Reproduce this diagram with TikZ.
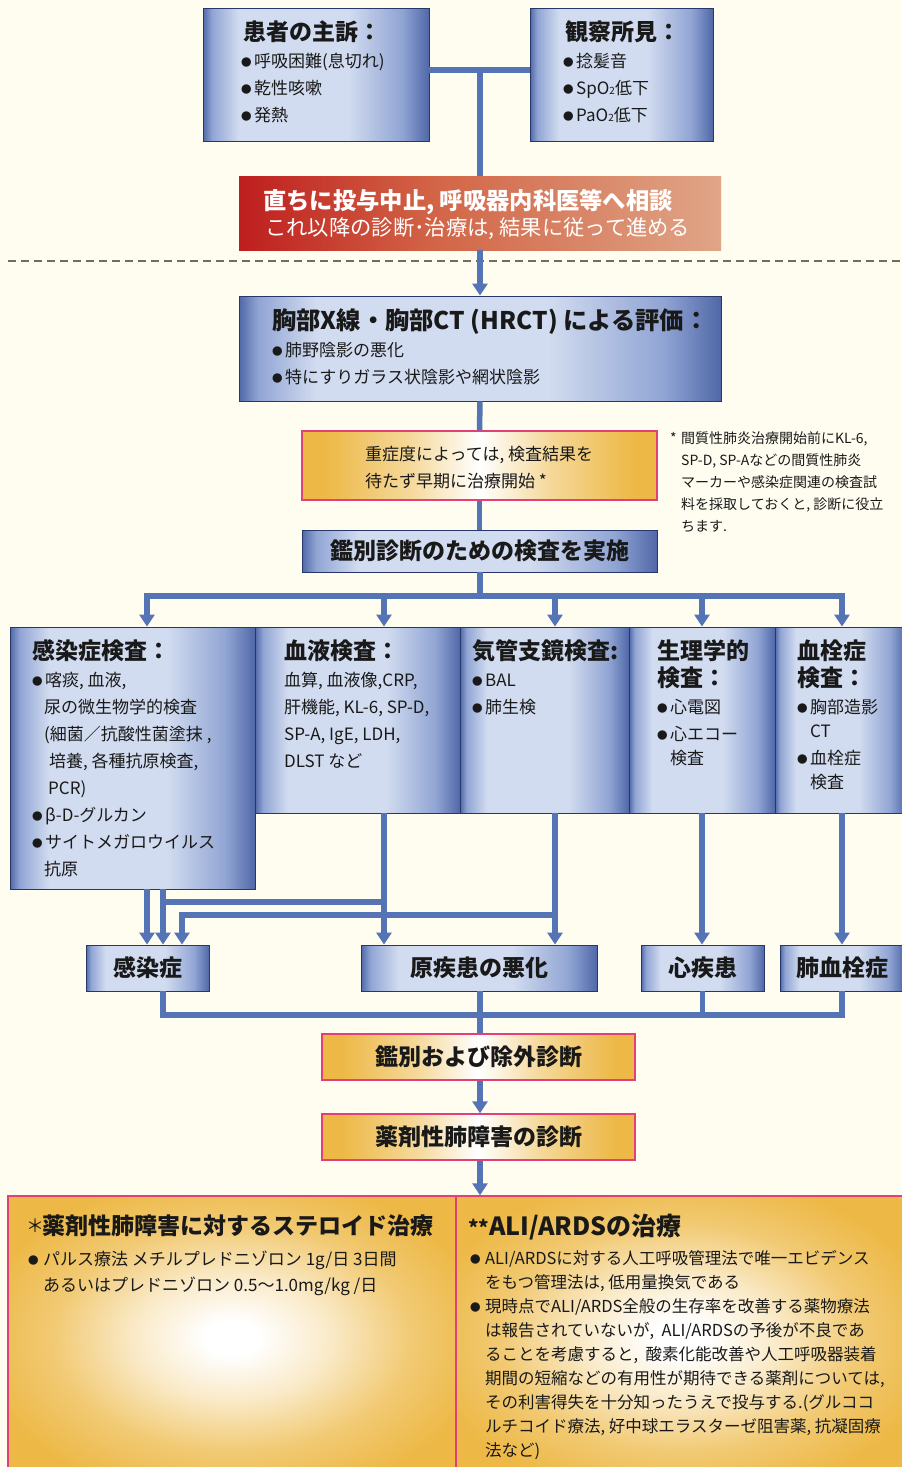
\documentclass[tikz,border=0pt]{standalone}
\usepackage{fontspec}
\setmainfont{Noto Sans CJK JP}
\usetikzlibrary{arrows.meta,calc}
\definecolor{bg}{RGB}{255,253,239}
\definecolor{conn}{RGB}{85,116,181}
\definecolor{bdark}{RGB}{80,104,168}
\definecolor{bmid}{RGB}{145,165,212}
\definecolor{blight}{RGB}{210,220,240}
\definecolor{navy}{RGB}{40,55,105}
\definecolor{gold}{RGB}{237,184,69}
\definecolor{pinkb}{RGB}{226,64,122}
\definecolor{redl}{RGB}{190,30,30}
\definecolor{redm}{RGB}{210,100,70}
\definecolor{salmon}{RGB}{224,165,135}
\definecolor{ink}{RGB}{25,25,25}
\definecolor{dashc}{RGB}{110,110,96}
\pgfdeclarehorizontalshading{blueshade}{100bp}{color(0bp)=(bdark); color(25bp)=(bdark); color(27bp)=(bmid); color(33bp)=(blight); color(57bp)=(blight); color(69bp)=(bmid); color(75bp)=(bdark); color(100bp)=(bdark)}
\pgfdeclarehorizontalshading{redshade}{100bp}{color(0bp)=(redl); color(25bp)=(redl); color(45bp)=(redm); color(75bp)=(salmon); color(100bp)=(salmon)}
\pgfdeclarehorizontalshading{goldh}{100bp}{color(0bp)=(gold); color(28bp)=(gold); color(40bp)=(gold!55!white); color(50bp)=(white); color(60bp)=(gold!55!white); color(72bp)=(gold); color(100bp)=(gold)}
\pgfdeclareradialshading{goldr}{\pgfpoint{0bp}{0bp}}{color(0bp)=(white); color(3bp)=(white); color(11bp)=(gold!30!white); color(20bp)=(gold!75!white); color(29bp)=(gold); color(50bp)=(gold)}
\newcommand\bul{\makebox[13pt][l]{\raisebox{1.4pt}{\fontsize{10.5}{10.5}\selectfont ●}}}
\newcommand\ind{\hspace*{12pt}}
\newcommand\subtwo{{\fontsize{10}{10}\selectfont 2}}
\tikzset{
  conn/.style={draw=conn, line width=5.5pt},
  bar/.style={conn, line cap=rect},
  arr/.style={conn, -{Triangle[width=15pt,length=12pt]}},
  bbox/.style={draw=navy, line width=0.9pt, shading=blueshade, inner sep=0pt},
  gbox/.style={draw=pinkb, line width=1.4pt, shading=goldh, inner sep=0pt},
  bigbox/.style={draw=pinkb, line width=1.4pt, shading=goldr, inner sep=0pt},
  ttl/.style={anchor=base west, inner sep=0pt, align=left, text=ink, font=\fontsize{23}{27}\selectfont\bfseries},
  ctl/.style={text=ink, font=\fontsize{23}{27}\selectfont\bfseries},
  body/.style={anchor=base west, inner sep=0pt, align=left, text=ink, font=\fontsize{17}{27}\selectfont},
}
\begin{document}
\begin{tikzpicture}[x=1pt,y=-1pt]
\useasboundingbox (0,0) rectangle (902,1467);
\clip (0,0) rectangle (902,1467);
\fill[bg] (0,0) rectangle (902,1467);

% ---------- top boxes
\node[bbox, minimum width=226pt, minimum height=133pt] (b1) at (316,74.5) {};
\node[bbox, minimum width=183pt, minimum height=133pt] (b2) at (621.5,74.5) {};
\node[ttl] (t1) at (243,40) {患者の主訴：};
\node[body] (i1) at (241,121.5) {\bul 呼吸困難(息切れ)\\\bul 乾性咳嗽\\\bul 発熱};
\node[ttl] (t2) at (565,40) {観察所見：};
\node[body] (i2) at (563,121.5) {\bul 捻髪音\\\bul SpO\subtwo 低下\\\bul PaO\subtwo 低下};

\coordinate (j0) at (480,70);
\draw[conn] (b1.east |- j0) -- (b2.west |- j0);

% ---------- red box
\node[shading=redshade, minimum width=482pt, minimum height=74pt, inner sep=0pt] (red) at (480,213) {};
\draw[conn] (j0) -- (red.north);
\node[anchor=base west, inner sep=0pt, text=white, font=\fontsize{23.3}{27}\selectfont\bfseries] (r1) at (263,209.5) {直ちに投与中止, 呼吸器内科医等へ相談};
\node[anchor=base west, inner sep=0pt, text=white, font=\fontsize{21.3}{24}\selectfont] (r2) at (265,235) {これ以降の診断･治療は, 結果に従って進める};

\draw[dashc, line width=2pt, dash pattern=on 8pt off 5pt] (8,261) -- (902,261);

% ---------- X-ray box
\node[bbox, minimum width=482pt, minimum height=105pt] (xr) at (480,348.5) {};
\draw[arr] (red.south) -- (xr.north);
\node[ttl, font=\fontsize{24.3}{27}\selectfont\bfseries] (t3) at (272,329) {胸部X線・胸部CT (HRCT) による評価：};
\node[body] (i3) at (272,383.5) {\bul 肺野陰影の悪化\\\bul 特にすりガラス状陰影や網状陰影};

% ---------- yellow box + note
\node[gbox, minimum width=355pt, minimum height=69pt] (ye) at (479.5,465.5) {};
\draw[conn] (xr.south) -- (ye.north);
\node[body] (i4) at (365,487.5) {重症度によっては, 検査結果を\\待たず早期に治療開始 *};
\node[anchor=base west, inner sep=0pt, align=left, text=ink, font=\fontsize{14}{22}\selectfont] (note) at (670,531.5)
 {\makebox[11pt][l]{*}間質性肺炎治療開始前にKL-6,\\\hspace*{11pt}SP-D, SP-Aなどの間質性肺炎\\\hspace*{11pt}マーカーや感染症関連の検査試\\\hspace*{11pt}料を採取しておくと, 診断に役立\\\hspace*{11pt}ちます.};

% ---------- kanbetsu box
\node[bbox, minimum width=355pt, minimum height=42pt, ctl] (kan) at (479.5,551) {鑑別診断のための検査を実施};
\draw[conn] (ye.south) -- (ye.south |- kan.north);

% ---------- five exam boxes
\node[bbox, minimum width=245pt, minimum height=262pt] (A) at (132.5,758) {};
\node[bbox, minimum width=205pt, minimum height=186pt] (B) at (357.5,720) {};
\node[bbox, minimum width=169pt, minimum height=186pt] (C) at (544.5,720) {};
\node[bbox, minimum width=146pt, minimum height=186pt] (D) at (702,720) {};
\node[bbox, minimum width=131pt, minimum height=186pt] (E) at (840.5,720) {};

\coordinate (bj) at (480,596);
\coordinate (xa) at (147,596);
\coordinate (xb) at (384,596);
\coordinate (xc) at (555,596);
\coordinate (xd) at (702,596);
\coordinate (xe) at (842,596);
\draw[conn] (kan.south -| bj) -- (bj);
\draw[bar] (xa) -- (xe);
\draw[arr] (xa) -- (xa |- A.north);
\draw[arr] (xb) -- (xb |- B.north);
\draw[arr] (xc) -- (xc |- C.north);
\draw[arr] (xd) -- (xd |- D.north);
\draw[arr] (xe) -- (xe |- E.north);

\node[ttl] (tA) at (32,659) {感染症検査：};
\node[body] (iA) at (32,875.5) {\bul 喀痰, 血液,\\\ind 尿の微生物学的検査\\\ind (細菌／抗酸性菌塗抹 ,\\\hspace*{17pt}培養, 各種抗原検査,\\\hspace*{16pt}PCR)\\\bul β-D-グルカン\\\bul サイトメガロウイルス\\\ind 抗原};
\node[ttl] (tB) at (284,659) {血液検査：};
\node[body] (iB) at (284,767.5) {血算, 血液像,CRP,\\肝機能, KL-6, SP-D,\\SP-A, IgE, LDH,\\DLST など};
\node[ttl] (tC) at (472,659) {気管支鏡検査:};
\node[body] (iC) at (472,713.5) {\bul BAL\\\bul 肺生検};
\node[ttl] (tD) at (657,686) {生理学的\\検査：};
\node[body] (iD) at (657,764.5) {\bul 心電図\\\bul 心エコー\\[-3pt]\hspace*{13pt}検査};
\node[ttl] (tE) at (797,686) {血栓症\\検査：};
\node[body] (iE) at (797,788.5) {\bul 胸部造影\\[-3pt]\hspace*{13pt}CT\\\bul 血栓症\\[-3pt]\hspace*{13pt}検査};

% ---------- diagnosis boxes
\node[bbox, minimum width=123pt, minimum height=46pt, ctl] (d1) at (147.5,968) {感染症};
\node[bbox, minimum width=236pt, minimum height=46pt, ctl] (d2) at (479,968) {原疾患の悪化};
\node[bbox, minimum width=123pt, minimum height=46pt, ctl] (d3) at (702.5,968) {心疾患};
\node[bbox, minimum width=124pt, minimum height=46pt, ctl] (d4) at (842,968) {肺血栓症};

\coordinate (ka1) at (147,0);
\coordinate (ka2) at (163,0);
\coordinate (ka3) at (182,0);
\coordinate (jb) at (384,902);
\coordinate (jc) at (555,915);
\draw[arr] (A.south -| ka1) -- (d1.north -| ka1);
\draw[arr] (A.south -| ka2) -- (d1.north -| ka2);
\draw[bar] (jb) -- (jb -| ka2);
\draw[arr] (B.south -| jb) -- (d2.north -| jb);
\draw[arr] (C.south -| jc) -- (d2.north -| jc);
\draw[arr, line join=miter] (jc) -- (jc -| ka3) -- (d1.north -| ka3);
\draw[arr] (D.south -| xd) -- (d3.north -| xd);
\draw[arr] (E.south -| xe) -- (d4.north -| xe);

% ---------- converge
\coordinate (cj) at (480,1015);
\coordinate (c1) at (163,1015);
\coordinate (c4) at (842,1015);
\draw[bar] (c1) -- (c4);
\draw[conn] (d1.south -| c1) -- (c1);
\draw[conn] (d2.south -| cj) -- (cj);
\draw[conn] (d3.south) -- (d3.south |- cj);
\draw[conn] (d4.south -| c4) -- (c4);

\node[gbox, minimum width=313pt, minimum height=46pt, ctl] (g1) at (478.5,1057) {鑑別および除外診断};
\node[gbox, minimum width=313pt, minimum height=46pt, ctl] (g2) at (478.5,1137) {薬剤性肺障害の診断};
\draw[conn] (cj) -- (cj |- g1.north);
\draw[arr] (g1.south -| cj) -- (g2.north -| cj);

% ---------- bottom boxes
\node[bigbox, minimum width=448pt, minimum height=284pt] (L) at (232,1338) {};
\node[bigbox, minimum width=448pt, minimum height=284pt] (R) at (680,1338) {};
\draw[arr] (g2.south -| cj) -- (R.north -| cj);

\node[ttl] (tL) at (26,1234.5) {\makebox[16pt][l]{\raisebox{2pt}{\fontsize{18}{18}\selectfont\mdseries ＊}}薬剤性肺障害に対するステロイド治療};
\node[body, font=\fontsize{17}{26}\selectfont] (iL) at (28,1291.5) {\bul\hspace{2pt}パルス療法 メチルプレドニゾロン 1g/日 3日間\\\hspace*{15pt}あるいはプレドニゾロン 0.5～1.0mg/kg /日};
\node[ttl, font=\fontsize{25}{27}\selectfont\bfseries] (tR) at (468,1235.5) {{\fontsize{20}{20}\selectfont **}ALI/ARDSの治療};
\node[body, font=\fontsize{16.5}{24}\selectfont] (iR) at (470,1456.5) {\bul\hspace{2pt}ALI/ARDSに対する人工呼吸管理法で唯一エビデンス\\
\hspace*{15pt}をもつ管理法は, 低用量換気である\\
\bul\hspace{2pt}現時点でALI/ARDS全般の生存率を改善する薬物療法\\
\hspace*{15pt}は報告されていないが,\ \ ALI/ARDSの予後が不良であ\\
\hspace*{15pt}ることを考慮すると,\ \ 酸素化能改善や人工呼吸器装着\\
\hspace*{15pt}期間の短縮などの有用性が期待できる薬剤については,\\
\hspace*{15pt}その利害得失を十分知ったうえで投与する.(グルココ\\
\hspace*{15pt}ルチコイド療法, 好中球エラスターゼ阻害薬, 抗凝固療\\
\hspace*{15pt}法など)};
\end{tikzpicture}
\end{document}
